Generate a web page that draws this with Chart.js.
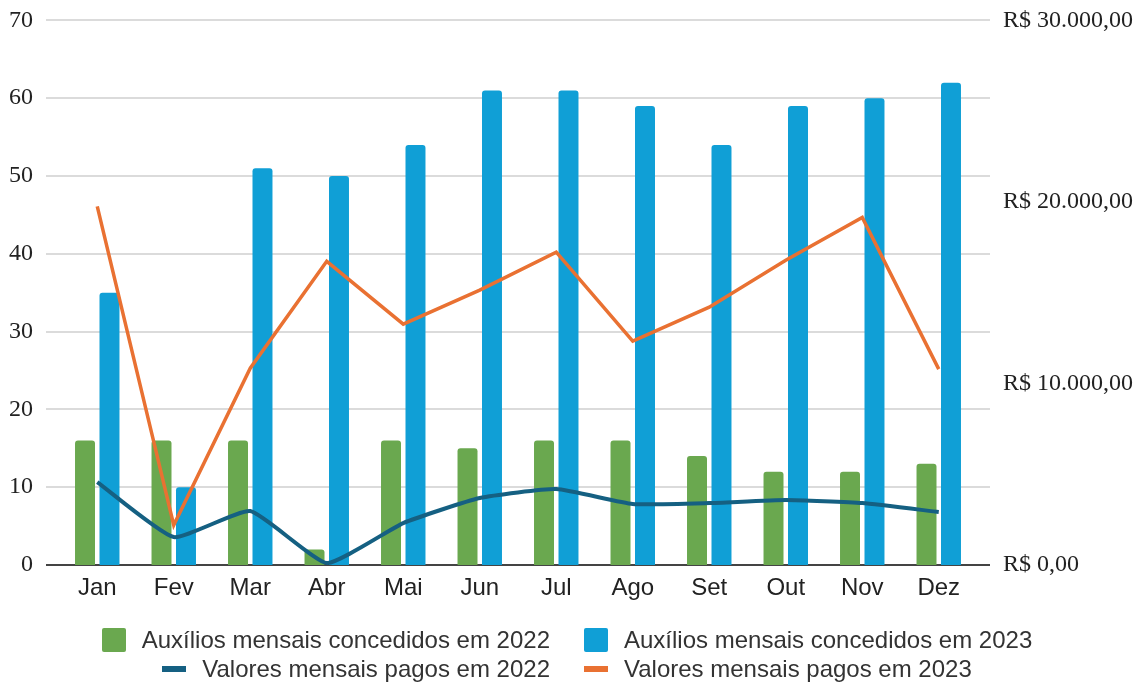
<!DOCTYPE html>
<html>
<head>
<meta charset="utf-8">
<script src="https://cdn.jsdelivr.net/npm/chart.js@4/dist/chart.umd.min.js"></script>
<style>
  html, body { margin:0; padding:0; background:#fff; }
  #wrap { position:relative; width:1145px; height:686px; overflow:hidden; }
  #c { position:absolute; left:0; top:-20px; }
  .row { position:absolute; left:0; width:1145px; height:28px; font-family:"Liberation Sans", Arial, sans-serif; font-size:24px; color:#333; }
  .item { position:absolute; top:0; height:28px; display:flex; align-items:center; white-space:nowrap; }
  .sw { display:inline-block; width:24px; margin-right:16px; }
</style>
</head>
<body>
<div id="wrap">
  <canvas id="c" width="1145" height="706"></canvas>
  <div id="legend"></div>
</div>
<script>
const categories = ['Jan','Fev','Mar','Abr','Mai','Jun','Jul','Ago','Set','Out','Nov','Dez'];
const auxilios2022 = [16,16,16,2,16,15,16,16,14,12,12,13];
const auxilios2023 = [35,10,51,50,54,61,61,59,54,59,60,62];
const valores2022 = [4570,1540,2970,110,2310,3690,4180,3360,3410,3580,3410,2920];
const valores2023 = [19760,2200,10840,16730,13270,15140,17230,12330,14200,16790,19150,10790];
const leftTicks = [0,10,20,30,40,50,60,70];
const rightTicks = [0,10000,20000,30000];

function fmtBRL(v){
  const int = Math.round(v).toString().replace(/\B(?=(\d{3})+(?!\d))/g,'.');
  return 'R$ ' + int + ',00';
}

const gridPlugin = {
  id:'gridExt',
  beforeDatasetsDraw(chart){
    const ctx = chart.ctx, y = chart.scales.y, a = chart.chartArea;
    const x0 = a.left - 13, x1 = a.right + 13;
    ctx.save();
    leftTicks.forEach(t=>{
      const py = Math.round(y.getPixelForValue(t));
      ctx.beginPath();
      if (t === 0){ ctx.strokeStyle='#444'; ctx.lineWidth=2; }
      else { ctx.strokeStyle='#cfcfcf'; ctx.lineWidth=1.6; }
      ctx.moveTo(x0, py); ctx.lineTo(x1, py); ctx.stroke();
    });
    ctx.restore();
  }
};

const GREEN='#6aa84f', BLUE='#109fd6', DARK='#156082', ORANGE='#e97132';

const chart = new Chart(document.getElementById('c'), {
  type:'bar',
  data:{
    labels: categories,
    datasets:[
      {type:'line', label:'Valores mensais pagos em 2022', data:valores2022, yAxisID:'y2', borderColor:DARK, backgroundColor:DARK, borderWidth:4, pointRadius:0, tension:0.15, order:0},
      {type:'line', label:'Valores mensais pagos em 2023', data:valores2023, yAxisID:'y2', borderColor:ORANGE, backgroundColor:ORANGE, borderWidth:3.5, pointRadius:0, tension:0, order:0},
      {label:'Auxílios mensais concedidos em 2022', data:auxilios2022, yAxisID:'y', backgroundColor:GREEN, borderRadius:{topLeft:3,topRight:3}, borderSkipped:'start', order:1},
      {label:'Auxílios mensais concedidos em 2023', data:auxilios2023, yAxisID:'y', backgroundColor:BLUE, borderRadius:{topLeft:3,topRight:3}, borderSkipped:'start', order:1}
    ]
  },
  options:{
    responsive:false,
    animation:false,
    devicePixelRatio:1,
    layout:{padding:{top:0, bottom:81, left:0, right:0}},
    datasets:{bar:{categoryPercentage:0.64, barPercentage:0.816}},
    plugins:{legend:{display:false}, tooltip:{enabled:false}},
    scales:{
      x:{
        offset:true,
        grid:{display:false, drawTicks:false},
        border:{display:false},
        ticks:{color:'#222', font:{family:'"Liberation Sans", Arial, sans-serif', size:24}, padding:9, maxRotation:0},
        afterFit(s){ s.height = 40; }
      },
      y:{
        position:'left', min:0, max:70,
        afterBuildTicks(s){ s.ticks = leftTicks.map(v=>({value:v})); },
        grid:{display:false, drawTicks:false},
        border:{display:false},
        ticks:{color:'#222', font:{family:'"Liberation Serif", "Times New Roman", serif', size:24}, padding:26},
        afterFit(s){ s.width = 59; }
      },
      y2:{
        position:'right', min:0, max:30000,
        afterBuildTicks(s){ s.ticks = rightTicks.map(v=>({value:v})); },
        grid:{display:false, drawTicks:false},
        border:{display:false},
        ticks:{color:'#222', font:{family:'"Liberation Serif", "Times New Roman", serif', size:24}, padding:26, callback:(v)=>fmtBRL(v)},
        afterFit(s){ s.width = 168; }
      }
    }
  },
  plugins:[gridPlugin]
});

// HTML legend built from datasets
(function(){
  const ds = chart.data.datasets;
  const rows = [
    {top:626, items:[ds[2], ds[3]]},
    {top:655, items:[ds[0], ds[1]]}
  ];
  const leg = document.getElementById('legend');
  rows.forEach(r=>{
    const row = document.createElement('div');
    row.className='row'; row.style.top = r.top+'px';
    r.items.forEach((d,i)=>{
      const it = document.createElement('div');
      it.className='item';
      if (i===0){ it.style.right = (1145-550)+'px'; } else { it.style.left = '584px'; }
      const sw = document.createElement('span');
      sw.className='sw';
      const isLine = d.type==='line';
      sw.style.height = isLine ? '6px' : '24px';
      sw.style.background = isLine ? d.borderColor : d.backgroundColor;
      if(!isLine) sw.style.borderRadius='2px';
      const tx = document.createElement('span');
      tx.textContent = d.label;
      it.appendChild(sw); it.appendChild(tx);
      row.appendChild(it);
    });
    leg.appendChild(row);
  });
})();
</script>
</body>
</html>
